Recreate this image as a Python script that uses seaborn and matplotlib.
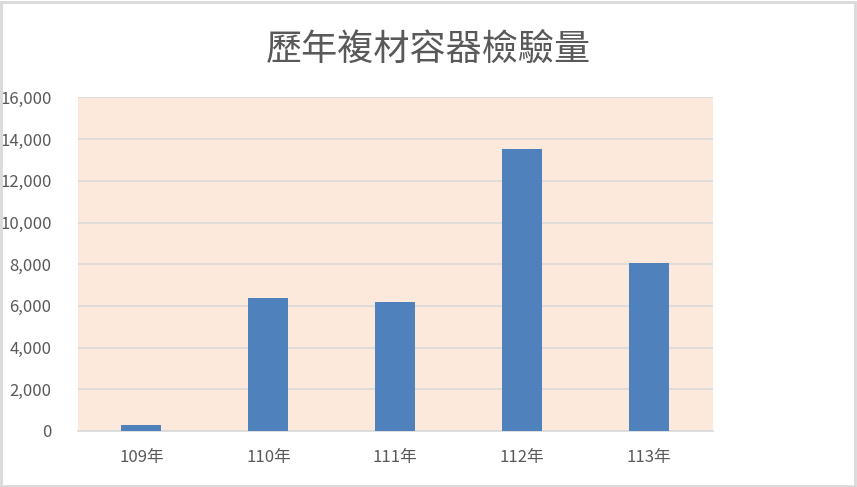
import matplotlib
matplotlib.use("Agg")
import matplotlib.pyplot as plt
import seaborn as sns
import pandas as pd
from matplotlib.patches import Rectangle
from matplotlib.ticker import FuncFormatter, MultipleLocator

years = ["109年", "110年", "111年", "112年", "113年"]
counts = [300, 6380, 6180, 13530, 8070]
title = "歷年複材容器檢驗量"

sns.set_theme(style="white")
plt.rcParams['font.family'] = ['Noto Sans CJK TC', 'DejaVu Sans']

df = pd.DataFrame({"year": years, "count": counts})

fig = plt.figure(figsize=(8.57, 4.87), dpi=100)
ax = fig.add_axes([0.091, 0.115, 0.7406, 0.6848])
ax.set_facecolor("#FCE9DB")

sns.barplot(data=df, x="year", y="count", color="#4F81BD", width=0.315,
            saturation=1, ax=ax, zorder=3, linewidth=0, edgecolor="none")

ax.set_ylim(0, 16000)
ax.set_xlim(-0.5, len(years) - 0.5)
ax.yaxis.set_major_locator(MultipleLocator(2000))
ax.yaxis.set_major_formatter(FuncFormatter(lambda v, p: f"{int(v):,}"))
ax.grid(axis="y", color="#D9D9D9", linewidth=1.2, zorder=1)
ax.set_axisbelow(True)
for s in ["top", "right", "left"]:
    ax.spines[s].set_visible(False)
ax.spines["bottom"].set_color("#D9D9D9")
ax.spines["bottom"].set_linewidth(1.2)
ax.tick_params(axis="both", length=0, labelsize=12, labelcolor="#595959")
ax.tick_params(axis="y", pad=19)
ax.tick_params(axis="x", pad=13)
ax.set_xlabel("")
ax.set_ylabel("")

fig.text(0.5, 0.895, title, ha="center", va="center", fontsize=26,
         color="#595959")

fig.patches.append(Rectangle((0.001, 0.002), 0.997, 0.994, transform=fig.transFigure,
                             fill=False, edgecolor="#D9D9D9", linewidth=2))

fig.savefig("out.png", dpi=100, facecolor="white")
